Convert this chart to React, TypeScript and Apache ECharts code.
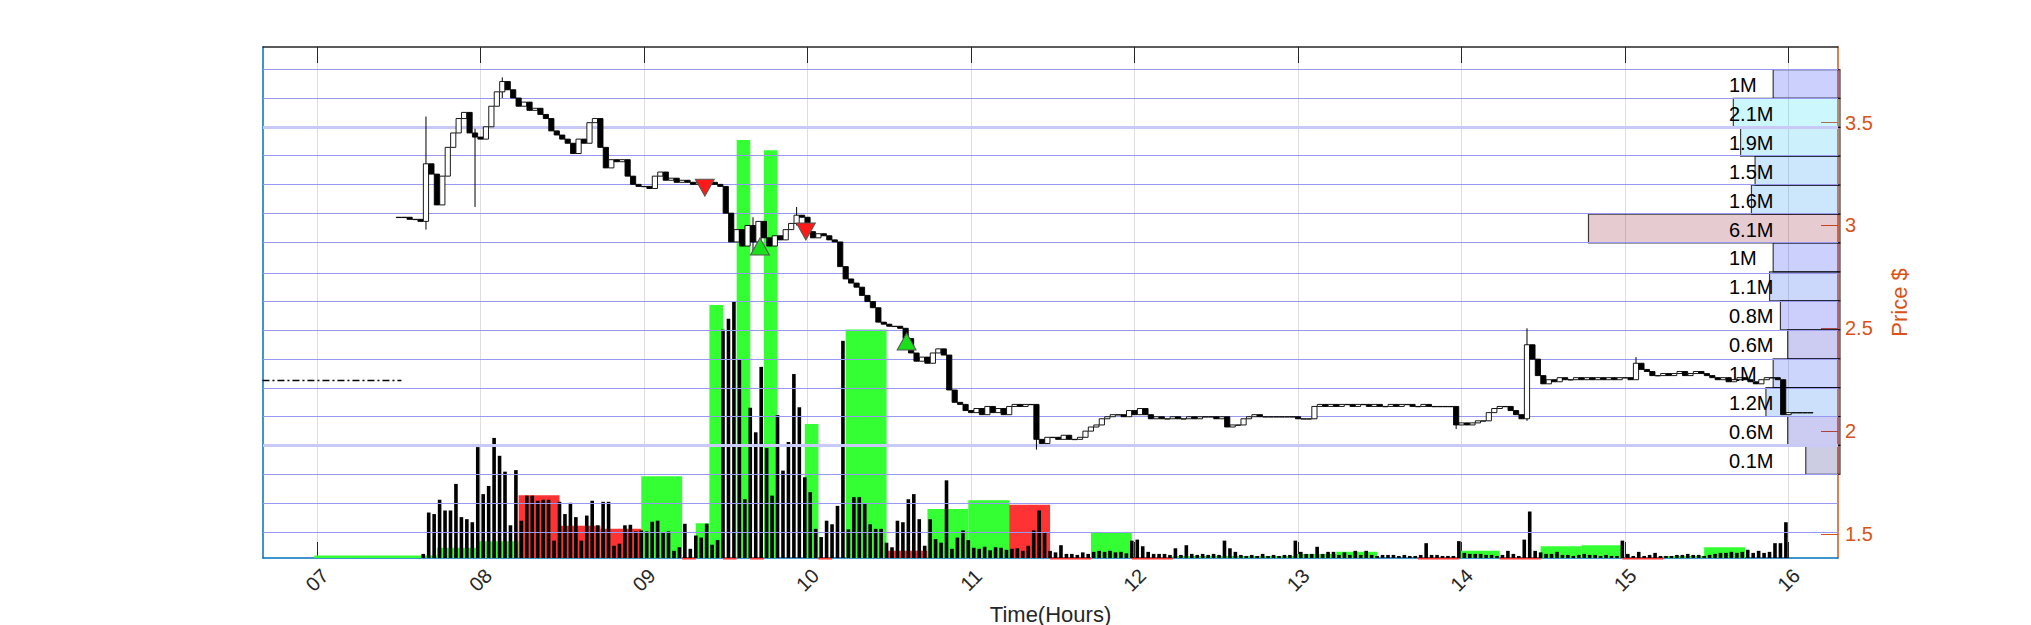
import { useEffect, useRef } from "react";
import * as echarts from "echarts";

// axis ticks
const HOURS = [7, 8, 9, 10, 11, 12, 13, 14, 15, 16];
const PRICE_TICKS = [1.5, 2, 2.5, 3, 3.5];

// 2-minute closes from 07:30
const CLOSE_START = "07:30";
const close07 = [3.04, 3.04, 3.03, 3.03, 3.02, 3.3, 3.25, 3.1, 3.24, 3.38, 3.45, 3.52, 3.55, 3.45, 3.43];
const close08 = [3.42, 3.48, 3.58, 3.65, 3.7, 3.66, 3.62, 3.58, 3.6, 3.56, 3.57, 3.54, 3.52, 3.46, 3.44, 3.42, 3.4, 3.35, 3.42, 3.4, 3.5, 3.52, 3.38, 3.28, 3.32, 3.31, 3.32, 3.24, 3.2, 3.19];
const close09 = [3.19, 3.18, 3.24, 3.26, 3.22, 3.23, 3.21, 3.22, 3.21, 3.2, 3.21, 3.2, 3.21, 3.2, 3.19, 3.06, 2.92, 2.98, 2.9, 3.0, 2.92, 3.02, 2.94, 2.9, 2.95, 2.93, 2.98, 3.01, 3.05, 3.04];
const close10 = [2.97, 2.94, 2.96, 2.95, 2.93, 2.92, 2.8, 2.74, 2.72, 2.7, 2.66, 2.63, 2.6, 2.53, 2.52, 2.51, 2.51, 2.5, 2.45, 2.38, 2.34, 2.36, 2.33, 2.38, 2.4, 2.37, 2.2, 2.14, 2.13, 2.1];
const close11 = [2.09, 2.11, 2.08, 2.12, 2.09, 2.11, 2.08, 2.12, 2.13, 2.12, 2.13, 2.13, 1.96, 1.94, 1.97, 1.97, 1.96, 1.98, 1.96, 1.96, 1.97, 2.0, 2.02, 2.03, 2.06, 2.07, 2.08, 2.08, 2.07, 2.1];
const close12 = [2.08, 2.11, 2.08, 2.06, 2.07, 2.06, 2.06, 2.07, 2.06, 2.06, 2.07, 2.06, 2.07, 2.07, 2.07, 2.06, 2.07, 2.02, 2.03, 2.03, 2.06, 2.07, 2.08, 2.07, 2.07, 2.07, 2.07, 2.07, 2.07, 2.07];
const close13 = [2.06, 2.06, 2.06, 2.12, 2.13, 2.12, 2.13, 2.12, 2.13, 2.13, 2.12, 2.13, 2.13, 2.12, 2.13, 2.12, 2.12, 2.13, 2.12, 2.13, 2.13, 2.12, 2.12, 2.13, 2.12, 2.12, 2.12, 2.12, 2.12, 2.03];
const close14 = [2.04, 2.03, 2.04, 2.05, 2.05, 2.09, 2.11, 2.12, 2.12, 2.1, 2.08, 2.06, 2.42, 2.35, 2.27, 2.23, 2.25, 2.24, 2.26, 2.25, 2.25, 2.26, 2.25, 2.26, 2.25, 2.26, 2.25, 2.26, 2.25, 2.26];
const close15 = [2.26, 2.25, 2.33, 2.3, 2.29, 2.27, 2.27, 2.28, 2.27, 2.28, 2.29, 2.27, 2.28, 2.29, 2.28, 2.27, 2.26, 2.25, 2.26, 2.24, 2.25, 2.26, 2.25, 2.24, 2.23, 2.25, 2.26, 2.26, 2.25, 2.08];
const close16 = [2.09, 2.09, 2.09, 2.09, 2.09];

// notable wicks: time, low, high
const wicks: [string, number, number][] = [
  ["07:40", 2.98, 3.53],
  ["07:58", 3.09, 3.47],
  ["08:08", 3.62, 3.72],
  ["09:40", 2.87, 3.04],
  ["09:56", 3.0, 3.09],
  ["11:24", 1.91, 2.13],
  ["13:58", 2.01, 2.12],
  ["14:24", 2.05, 2.5],
  ["15:04", 2.25, 2.36],
];

// pre-market quotes
const preTimes = ["06:40", "07:31"];
const prePrice = 2.246;

// 2-minute volume from 07:38, % of panel height
const VOL_START = "07:38";
const vol07 = [0.8, 8.9, 8.6, 11.4, 9.3, 9.3, 14.5, 8.0, 7.6, 7.0, 21.7];
const vol08 = [12.5, 14.1, 23.5, 20.0, 16.9, 6.4, 17.2, 7.3, 12.2, 12.2, 11.2, 11.4, 11.4, 3.4, 11.0, 8.6, 10.8, 8.0, 3.4, 8.3, 11.2, 6.4, 11.0, 11.0, 2.4, 2.8, 6.4, 6.5, 5.2, 5.4];
const vol09 = [5.2, 7.1, 7.3, 5.0, 5.2, 1.4, 2.1, 6.7, 1.8, 4.4, 4.0, 6.7, 2.6, 3.5, 44.7, 46.8, 50.2, 38.8, 11.5, 29.4, 24.6, 37.4, 21.5, 12.2, 28.0, 17.1, 22.7, 36.0, 29.5, 15.8];
const vol10 = [12.9, 5.7, 4.1, 7.3, 6.6, 10.2, 42.5, 5.6, 11.9, 11.9, 10.6, 6.6, 5.7, 5.7, 3.0, 2.1, 7.3, 7.0, 11.5, 12.5, 7.6, 2.4, 7.6, 3.7, 3.0, 15.2, 1.8, 4.0, 5.4, 3.5];
const vol11 = [2.0, 1.8, 2.2, 1.5, 2.1, 2.0, 1.6, 1.8, 1.9, 1.4, 2.4, 5.4, 9.3, 5.0, 1.4, 1.1, 2.5, 0.8, 0.8, 0.6, 1.1, 0.8, 1.2, 1.4, 1.2, 1.4, 1.1, 1.2, 0.9, 3.4];
const vol12 = [3.6, 2.3, 1.2, 0.8, 0.8, 0.8, 0.6, 1.9, 0.6, 2.5, 0.8, 0.6, 0.8, 0.6, 0.8, 0.6, 3.4, 1.9, 1.2, 0.6, 0.4, 0.6, 0.4, 0.8, 0.4, 0.6, 0.4, 0.6, 0.6, 3.4];
const vol13 = [1.2, 0.8, 0.8, 2.2, 0.8, 1.2, 1.2, 0.6, 1.1, 0.6, 1.4, 0.6, 1.4, 0.6, 0.4, 0.6, 0.6, 0.6, 0.4, 0.6, 0.4, 0.4, 0.6, 2.9, 0.6, 0.6, 0.4, 0.4, 0.4, 3.3];
const vol14 = [1.0, 0.8, 0.8, 0.8, 0.6, 0.6, 0.4, 0.6, 1.4, 0.8, 0.4, 3.6, 9.1, 1.4, 1.1, 0.8, 0.8, 1.2, 0.6, 0.6, 0.4, 0.6, 0.8, 0.6, 0.6, 0.4, 0.6, 0.4, 0.4, 3.4];
const vol15 = [0.8, 0.4, 1.2, 0.4, 0.6, 1.0, 0.4, 0.4, 0.4, 0.6, 0.6, 0.8, 0.6, 0.6, 0.4, 0.6, 0.8, 1.0, 1.0, 1.2, 1.0, 1.2, 1.6, 1.0, 1.4, 1.0, 1.2, 2.9, 2.9, 7.0];

// net flow buckets: start, length (min), signed height (% of panel)
const flowStart = ["06:59", "07:14", "07:29", "07:44", "07:59", "08:14", "08:29", "08:44", "08:59", "09:14", "09:19", "09:24", "09:29", "09:34", "09:39", "09:44", "09:59", "10:04", "10:14", "10:29", "10:44", "10:59", "11:14", "11:29", "11:44", "11:59", "12:14", "12:29", "12:44", "12:59", "13:14", "13:44", "13:59", "14:14", "14:29", "14:44", "14:59", "15:14", "15:29"];
const flowMinutes = [15, 15, 15, 15, 15, 15, 15, 15, 15, 5, 5, 5, 5, 5, 5, 5, 5, 5, 15, 15, 15, 15, 15, 15, 15, 15, 15, 15, 15, 15, 15, 15, 15, 15, 15, 15, 15, 15, 15];
const flowValues = [0.5, 0.5, 0.5, 2.0, 3.3, -12.3, -6.3, -5.7, 16.0, -0.4, 6.8, 49.5, -0.4, 81.8, -0.4, 79.8, 26.2, -0.4, 44.7, -1.4, 9.6, 11.3, -10.4, -0.4, 4.9, -0.4, 0.4, 0.4, 0.4, 0.8, 1.2, -0.4, 1.4, -0.4, 2.3, 2.5, -0.4, 0.4, 2.1];

// volume profile, top bin first
const binEdges = [3.758, 3.618, 3.477, 3.337, 3.196, 3.055, 2.915, 2.774, 2.634, 2.493, 2.352, 2.212, 2.071, 1.931, 1.79, 1.65, 1.509];
const profileM = [1.0, 2.1, 1.9, 1.5, 1.6, 6.1, 1.0, 1.1, 0.8, 0.6, 1.0, 1.2, 0.6, 0.1];
const valueArea = [3.477, 1.931];
const profileColors = [
  "rgba(0,20,240,0.2)", "rgba(0,215,240,0.2)", "rgba(0,180,240,0.2)", "rgba(0,130,240,0.2)",
  "rgba(0,130,240,0.2)", "rgba(130,0,20,0.2)", "rgba(0,20,240,0.2)", "rgba(0,55,240,0.2)",
  "rgba(0,15,240,0.2)", "rgba(0,0,190,0.2)", "rgba(0,50,240,0.2)", "rgba(0,100,240,0.2)",
  "rgba(0,0,190,0.2)", "rgba(0,0,110,0.2)",
];

// signals: hours, price
const sellSignals = [[9.372, 3.184], [9.99, 2.971]];
const buySignals = [[9.709, 2.898], [10.606, 2.436]];

const X_MIN = 6.67;
const X_MAX = 16.302;
const P_MIN = 1.383;
const P_MAX = 3.868;
const PROF_MIN = -0.79;
const PROF_MAX = 42.7;
const FONT = '"Liberation Sans", Arial, sans-serif';

const hrs = (s: string) => {
  const [h, m] = s.split(":").map(Number);
  return h + m / 60;
};

const App = () => {
  const chartRef = useRef<HTMLDivElement>(null);

  useEffect(() => {
    document.body.style.margin = "0";
    if (!chartRef.current) return;
    const chart = echarts.init(chartRef.current, null, { renderer: "svg" });

    const closes = [...close07, ...close08, ...close09, ...close10, ...close11, ...close12, ...close13, ...close14, ...close15, ...close16];
    const wickMap = new Map(wicks.map((w) => [Math.round(hrs(w[0]) * 60), w]));
    const candles = closes.map((c, i) => {
      const t = hrs(CLOSE_START) + i / 30;
      const o = i === 0 ? c : closes[i - 1];
      let lo = Math.min(o, c);
      let hi = Math.max(o, c);
      const w = wickMap.get(Math.round(t * 60));
      if (w) {
        lo = Math.min(lo, w[1]);
        hi = Math.max(hi, w[2]);
      }
      return [t, o, c, lo, hi];
    });

    const vols = [...vol07, ...vol08, ...vol09, ...vol10, ...vol11, ...vol12, ...vol13, ...vol14, ...vol15];
    const volData = vols.map((v, i) => [hrs(VOL_START) + i / 30 + 1 / 60, v]);

    const flowData = flowStart.map((s, i) => [hrs(s), hrs(s) + flowMinutes[i] / 60, flowValues[i]]);

    const profileData = profileM.map((v, i) => [binEdges[i + 1], binEdges[i], v, i]);

    const option: any = {
      animation: false,
      grid: { left: 263, right: 193, top: 47, bottom: 67, containLabel: false, outerBoundsMode: "none" },
      xAxis: [
        {
          type: "value",
          min: X_MIN,
          max: X_MAX,
          position: "bottom",
          name: "Time(Hours)",
          nameLocation: "middle",
          nameGap: 45,
          nameTextStyle: { fontSize: 22, color: "#262626", fontFamily: FONT },
          axisLine: { show: true, onZero: false, lineStyle: { color: "#0072BD", width: 1.5 } },
          axisTick: { show: true, inside: true, length: 16, customValues: HOURS, lineStyle: { color: "#262626" } },
          axisLabel: {
            customValues: HOURS,
            rotate: 45,
            align: "center",
            verticalAlign: "middle",
            margin: 22,
            fontSize: 20,
            color: "#262626",
            fontFamily: FONT,
            formatter: (v: number) => String(Math.round(v)).padStart(2, "0"),
          },
          splitLine: { show: true, lineStyle: { color: "#dedede", width: 1 } },
        },
        {
          type: "value",
          min: X_MIN,
          max: X_MAX,
          position: "top",
          axisLine: { show: true, onZero: false, lineStyle: { color: "#262626", width: 1.5 } },
          axisTick: { show: true, inside: true, length: 16, customValues: HOURS, lineStyle: { color: "#262626" } },
          axisLabel: { show: false },
          splitLine: { show: false },
        },
        {
          type: "value",
          min: PROF_MIN,
          max: PROF_MAX,
          inverse: true,
          show: false,
        },
      ],
      yAxis: [
        {
          type: "value",
          min: 0,
          max: 100,
          position: "left",
          axisLine: { show: true, onZero: false, lineStyle: { color: "#0072BD", width: 1.5 } },
          axisTick: { show: false },
          axisLabel: { show: false },
          splitLine: { show: false },
        },
        {
          type: "value",
          min: P_MIN,
          max: P_MAX,
          position: "right",
          name: "Price $",
          nameLocation: "middle",
          nameRotate: 90,
          nameGap: 50,
          nameTextStyle: { fontSize: 22, color: "#D95319", fontFamily: FONT },
          axisLine: { show: true, onZero: false, lineStyle: { color: "#D95319", width: 1.5 } },
          axisTick: { show: true, inside: true, length: 17, customValues: PRICE_TICKS, lineStyle: { color: "#D95319" } },
          axisLabel: { customValues: PRICE_TICKS, margin: 7, fontSize: 20, color: "#D95319", fontFamily: FONT },
          splitLine: { show: false },
        },
      ],
      series: [
        {
          name: "flow",
          type: "custom",
          xAxisIndex: 0,
          yAxisIndex: 0,
          z: 1,
          clip: false,
          data: flowData,
          encode: { x: [0, 1], y: 2 },
          renderItem: (_p: any, api: any) => {
            const a = api.value(0);
            const b = api.value(1);
            const v = api.value(2);
            const p0 = api.coord([a, 0]);
            const p1 = api.coord([b, Math.abs(v)]);
            const h = p0[1] - p1[1];
            // tiny selling buckets sit just under the baseline
            const y = v < 0 && v > -1 ? p0[1] - 0.5 : p1[1];
            return {
              type: "rect",
              shape: { x: p0[0], y, width: p1[0] - p0[0], height: h },
              style: { fill: v >= 0 ? "#33ff33" : "#ff3333" },
            };
          },
        },
        {
          name: "volume",
          type: "custom",
          xAxisIndex: 0,
          yAxisIndex: 0,
          z: 2,
          data: volData,
          encode: { x: 0, y: 1 },
          renderItem: (_p: any, api: any) => {
            const p0 = api.coord([api.value(0), 0]);
            const p1 = api.coord([api.value(0), api.value(1)]);
            return {
              type: "rect",
              shape: { x: p0[0] - 1.8, y: p1[1], width: 3.6, height: p0[1] - p1[1] },
              style: { fill: "#000" },
            };
          },
        },
        {
          name: "premarket",
          type: "line",
          xAxisIndex: 0,
          yAxisIndex: 1,
          z: 3,
          symbol: "none",
          data: preTimes.map((s) => [hrs(s), prePrice]),
          lineStyle: { color: "#000", width: 1.5, type: [7, 3, 2, 3] },
          markLine: {
            silent: true,
            symbol: "none",
            label: { show: false },
            animation: false,
            lineStyle: { color: "#9898f2", width: 1, type: "solid" },
            data: [
              ...binEdges.map((y) => ({ yAxis: y })),
              ...valueArea.map((y) => ({ yAxis: y, lineStyle: { color: "#c9c9f7", width: 3, type: "solid" } })),
            ],
          },
        },
        {
          name: "profile",
          type: "custom",
          xAxisIndex: 2,
          yAxisIndex: 1,
          z: 4,
          data: profileData,
          encode: { x: 2, y: [0, 1] },
          renderItem: (_p: any, api: any) => {
            const lo = api.value(0);
            const hi = api.value(1);
            const v = api.value(2);
            const idx = api.value(3);
            const pl = api.coord([v, lo]);
            const pt = api.coord([v, hi]);
            const xr = api.coord([PROF_MIN, lo])[0] + 2;
            return {
              type: "group",
              children: [
                {
                  type: "rect",
                  shape: { x: pl[0], y: pt[1], width: xr - pl[0], height: pl[1] - pt[1] },
                  style: { fill: profileColors[idx], stroke: "rgba(0,0,0,0.75)", lineWidth: 1.2 },
                },
                {
                  type: "text",
                  style: {
                    text: `${v}M`,
                    x: xr - 111,
                    y: (pl[1] + pt[1]) / 2 + 1,
                    fill: "#000",
                    fontSize: 20,
                    fontFamily: FONT,
                    align: "left",
                    verticalAlign: "middle",
                  },
                },
              ],
            };
          },
        },
        {
          name: "price",
          type: "custom",
          xAxisIndex: 0,
          yAxisIndex: 1,
          z: 5,
          data: candles,
          encode: { x: 0, y: [1, 2, 3, 4] },
          renderItem: (_p: any, api: any) => {
            const t = api.value(0);
            const o = api.value(1);
            const c = api.value(2);
            const po = api.coord([t, o]);
            const yc = api.coord([t, c])[1];
            const yl = api.coord([t, api.value(3)])[1];
            const yh = api.coord([t, api.value(4)])[1];
            const top = Math.min(po[1], yc);
            const h = Math.max(Math.abs(po[1] - yc), 0.3);
            return {
              type: "group",
              children: [
                {
                  type: "line",
                  shape: { x1: po[0], y1: yh, x2: po[0], y2: yl },
                  style: { stroke: "#000", lineWidth: 1 },
                },
                {
                  type: "rect",
                  shape: { x: po[0] - 2.6, y: top, width: 5.2, height: h },
                  style: { fill: c >= o ? "#fff" : "#000", stroke: "#000", lineWidth: 0.9 },
                },
              ],
            };
          },
        },
        {
          name: "sell",
          type: "scatter",
          xAxisIndex: 0,
          yAxisIndex: 1,
          z: 6,
          symbol: "triangle",
          symbolRotate: 180,
          symbolSize: [19, 17],
          data: sellSignals,
          itemStyle: { color: "#ff1a1a", borderColor: "#555", borderWidth: 1, opacity: 1 },
        },
        {
          name: "buy",
          type: "scatter",
          xAxisIndex: 0,
          yAxisIndex: 1,
          z: 6,
          symbol: "triangle",
          symbolSize: [19, 17],
          data: buySignals,
          itemStyle: { color: "#1ae01a", borderColor: "#555", borderWidth: 1, opacity: 1 },
        },
      ],
    };

    chart.setOption(option);
    return () => {
      chart.dispose();
    };
  }, []);

  return <div ref={chartRef} style={{ width: 2031, height: 625 }} />;
};

export default App;
